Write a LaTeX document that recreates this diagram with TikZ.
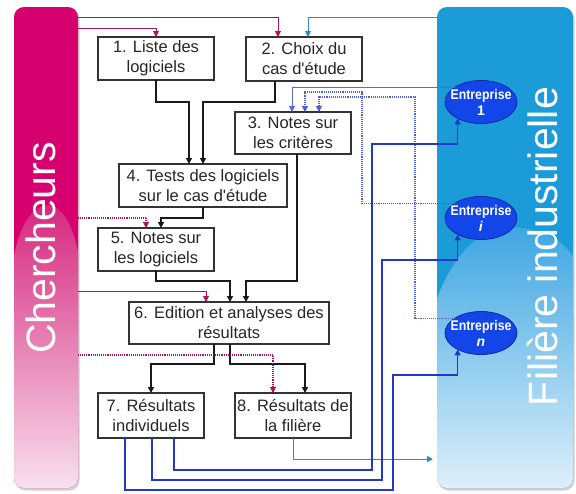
\documentclass[tikz,border=0pt]{standalone}
\usepackage{fontspec}
\usepackage{graphicx}
\setmainfont{Liberation Sans}
\usetikzlibrary{arrows.meta,shapes.geometric,calc}
\definecolor{chmag}{RGB}{214,0,110}
\definecolor{chglossA}{RGB}{214,40,126}
\definecolor{chglossM}{RGB}{226,112,170}
\definecolor{chglossB}{RGB}{249,228,240}
\definecolor{fiblue}{RGB}{27,156,216}
\definecolor{figlossA}{RGB}{62,166,226}
\definecolor{figlossM}{RGB}{122,196,238}
\definecolor{figlossB}{RGB}{226,242,251}
\definecolor{crim}{RGB}{176,20,82}
\definecolor{lnteal}{RGB}{45,138,198}
\definecolor{dblue}{RGB}{35,55,205}
\definecolor{entfill}{RGB}{18,70,232}
\definecolor{entdraw}{RGB}{10,40,160}
\newcommand{\entname}[1]{\scalebox{0.88}[1]{Entreprise}\\#1}
\begin{document}
\begin{tikzpicture}[x=1pt,y=-1pt,
  box/.style={draw=black!80, line width=1.1pt, fill=white, minimum width=#1,
    inner sep=0pt, outer sep=0pt, align=center, text=black!85,
    font=\fontsize{16.5}{20}\selectfont},
  ent/.style={ellipse, minimum width=72pt, minimum height=43pt, inner sep=0pt,
    outer sep=0pt, fill=entfill, draw=entdraw, line width=0.8pt},
  enttxt/.style={text=white, align=center, inner sep=0pt,
    font=\bfseries\fontsize{14}{16}\selectfont},
  tip/.style={-{Triangle[length=6pt,width=6pt]}},
  blk/.style={tip, draw=black!90, line width=1.3pt},
  crl/.style={tip, draw=crim, line width=0.9pt},
  crd/.style={crl, densely dotted, line width=1.1pt},
  tll/.style={tip, draw=lnteal, line width=1pt},
  dbl/.style={tip, draw=dblue, line width=1.1pt},
  dbd/.style={tip, draw=dblue!80, densely dotted, line width=1.1pt},
  dbt/.style={tip, draw=dblue!75, line width=0.8pt},
  paneltxt/.style={rotate=90, text=white, inner sep=0pt, font=\fontsize{41}{41}\selectfont}
]
\useasboundingbox (0,0) rectangle (576,493);

% ---- panels ----
\fill[black!18, rounded corners=10pt] (15.5,9.5) rectangle (79.5,490.5);
\fill[black!18, rounded corners=10pt] (438.5,9.5) rectangle (574.5,490.5);
\fill[chmag, rounded corners=10pt] (14,7) rectangle (78,488);
\begin{scope}
  \clip[rounded corners=10pt] (14,7) rectangle (78,488);
  \shade[top color=chglossA, middle color=chglossM, bottom color=chglossB]
    (12,495) -- (12,270) .. controls (16,232) and (30,206) .. (48,205)
    .. controls (64,206) and (76,230) .. (80,266) -- (80,495) -- cycle;
\end{scope}
\fill[fiblue, rounded corners=10pt] (437,7) rectangle (573,488);
\begin{scope}
  \clip[rounded corners=10pt] (437,7) rectangle (573,488);
  \shade[top color=figlossA, middle color=figlossM, bottom color=figlossB]
    (435,495) -- (435,305) .. controls (450,258) and (478,228) .. (510,227)
    .. controls (540,228) and (565,240) .. (575,260) -- (575,495) -- cycle;
\end{scope}
\node[minimum width=64pt, minimum height=481pt, inner sep=0pt, outer sep=0pt] (ch) at (46,247.5) {};
\node[minimum width=136pt, minimum height=481pt, inner sep=0pt, outer sep=0pt] (fi) at (505,247.5) {};
\node[paneltxt] (cht) at (41,248) {Chercheurs};
\node[paneltxt] (fit) at (543,246.5) {Filière industrielle};

% ---- boxes ----
\node[box=116pt, minimum height=43pt] (b1) at (156,58.5) {1. Liste des\\logiciels};
\node[box=116pt, minimum height=44pt] (b2) at (304,59) {2. Choix du\\cas d\textquotesingle étude};
\node[box=116pt, minimum height=42pt] (b3) at (293,133) {3. Notes sur\\les critères};
\node[box=168pt, minimum height=43pt] (b4) at (203,185.5) {4. Tests des logiciels\\sur le cas d\textquotesingle étude};
\node[box=116pt, minimum height=43pt] (b5) at (156,249.5) {5. Notes sur\\les logiciels};
\node[box=200pt, minimum height=42pt] (b6) at (229,323) {6. Edition et analyses des\\résultats};
\node[box=106pt, minimum height=45pt] (b7) at (151,415.5) {7. Résultats\\individuels};
\node[box=116pt, minimum height=45pt] (b8) at (293,415.5) {8. Résultats de\\la filière};

% ---- enterprises ----
\node[ent, label={[enttxt]center:{\entname{1}}}] (e1) at (481,102) {};
\node[ent, label={[enttxt]center:{\entname{\textit{i}}}}] (ei) at (481,218) {};
\node[ent, label={[enttxt]center:{\entname{\textit{n}}}}] (en) at (481,333) {};

% ---- black flow ----
\draw[blk] (b1.south) -- ++(0,22) -| ([xshift=-14pt]b4.north);
\draw[blk] ([xshift=-29pt]b2.south) -- ++(0,21) -| (b4.north);
\draw[blk] (b4.south) -- ++(0,11) -| ([xshift=5pt]b5.north);
\draw[blk] (b5.south) -- ++(0,10) -| ([xshift=1pt]b6.north);
\draw[blk] ([xshift=4pt]b3.south) -- ++(0,127) -| ([xshift=17pt]b6.north);
\draw[blk] ([xshift=-15pt]b6.south) -- ++(0,20) -| (b7.north);
\draw[blk] ([xshift=1pt]b6.south) -- ++(0,20) -| ([xshift=12pt]b8.north);

% ---- researchers ----
\draw[crl] (ch.east |- 0,17) -| ([xshift=-26pt]b2.north);
\draw[crl] (ch.east |- 0,28) -| (b1.north);
\draw[crd] (ch.east |- 0,218) -| ([xshift=-10pt]b5.north);
\draw[crl] (ch.east |- 0,291) -| ([xshift=-23pt]b6.north);
\draw[crd] (ch.east |- 0,355) -| ([xshift=-20pt]b8.north);

% ---- industry ----
\coordinate (fin) at (433,459);
\draw[tll] (fi.west |- 0,17) -| ([xshift=4pt]b2.north);
\draw[tll] (b8.south) |- (fin);
\draw[dbt] (e1.150) -| ([xshift=-1pt]b3.north);
\draw[dbd] (ei.150) -| (362,92) -| ([xshift=12pt]b3.north);
\draw[dbd] (en.150) -| (415,97) -| ([xshift=26pt]b3.north);

% ---- individual results to enterprises ----
\draw[dbl] ([xshift=23pt]b7.south) |- (372,470) -- (372,144) -| (e1.215);
\draw[dbl] ([xshift=1pt]b7.south) |- (382,480) -- (382,260) -| (ei.215);
\draw[dbl] ([xshift=-26pt]b7.south) |- (393,490) -- (393,375) -| (en.215);
\end{tikzpicture}
\end{document}
